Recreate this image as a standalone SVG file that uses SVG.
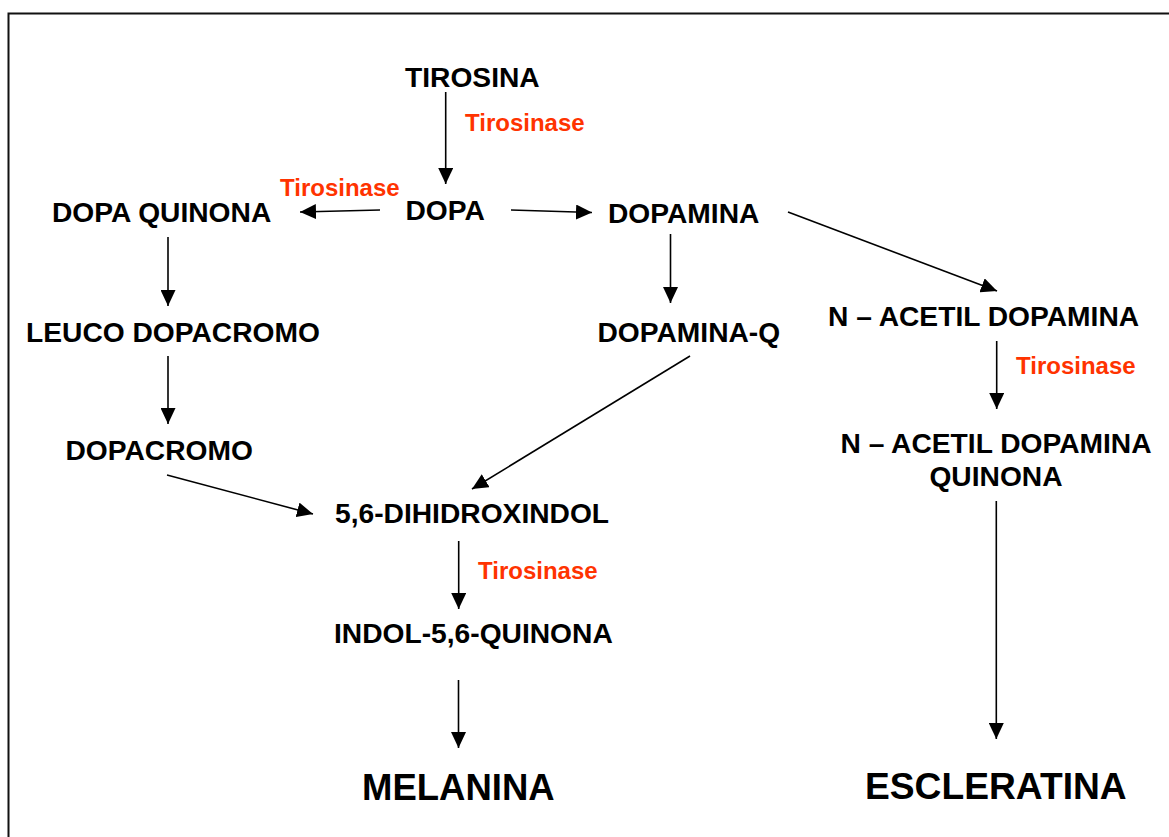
<svg xmlns="http://www.w3.org/2000/svg" width="1169" height="837" viewBox="0 0 1169 837">
<style>
.n{font-family:"Liberation Sans",Arial,sans-serif;font-weight:bold;font-size:28.2px;fill:#000}
.e{font-family:"Liberation Sans",Arial,sans-serif;font-weight:bold;font-size:24px;fill:#ff3300}
.b{font-family:"Liberation Sans",Arial,sans-serif;font-weight:bold;font-size:36.5px;fill:#000}
.c{fill:none;stroke:#000;stroke-width:1.6;marker-end:url(#ah)}
</style>
<defs>
<marker id="ah" markerUnits="userSpaceOnUse" markerWidth="16" markerHeight="15" refX="16" refY="7.5" orient="auto" viewBox="0 0 16 15">
<path d="M0,0 L16,7.5 L0,15 z" fill="#000"/>
</marker>
</defs>
<rect x="0" y="0" width="1169" height="837" fill="#fff"/>
<rect x="8.5" y="13.5" width="1200" height="900" fill="none" stroke="#111" stroke-width="2"/>
<g id="connectors">
<line class="c" x1="445.7" y1="92" x2="445.7" y2="184"/>
<line class="c" x1="380" y1="210" x2="300" y2="212"/>
<line class="c" x1="511" y1="210" x2="592" y2="212.5"/>
<line class="c" x1="788" y1="212" x2="997" y2="291"/>
<line class="c" x1="670.5" y1="234" x2="670.5" y2="303"/>
<line class="c" x1="168" y1="237" x2="168" y2="306"/>
<line class="c" x1="168" y1="356" x2="168" y2="424"/>
<line class="c" x1="167" y1="475" x2="313" y2="514"/>
<line class="c" x1="690" y1="356" x2="472" y2="489"/>
<line class="c" x1="996.7" y1="341" x2="996.7" y2="409"/>
<line class="c" x1="458.7" y1="541" x2="458.7" y2="609"/>
<line class="c" x1="458.5" y1="680" x2="458.5" y2="748"/>
<line class="c" x1="996.3" y1="501" x2="996.3" y2="739"/>
</g>
<g id="tirosina"><text class="n" x="405" y="87">TIROSINA</text></g>
<g id="enz1"><text class="e" x="465" y="131">Tirosinase</text></g>
<g id="enz2"><text class="e" x="280" y="196">Tirosinase</text></g>
<g id="dopa-quinona"><text class="n" x="52" y="222">DOPA QUINONA</text></g>
<g id="dopa"><text class="n" x="405.5" y="220">DOPA</text></g>
<g id="dopamina"><text class="n" x="608" y="222.5">DOPAMINA</text></g>
<g id="n-acetil-dopamina"><text class="n" x="828" y="326">N – ACETIL DOPAMINA</text></g>
<g id="enz3"><text class="e" x="1016" y="374">Tirosinase</text></g>
<g id="n-acetil-dopamina-quinona"><text class="n" x="996" y="452.5" text-anchor="middle">N – ACETIL DOPAMINA</text><text class="n" x="996" y="486" text-anchor="middle">QUINONA</text></g>
<g id="leuco-dopacromo"><text class="n" x="26" y="341.5">LEUCO DOPACROMO</text></g>
<g id="dopacromo"><text class="n" x="65.5" y="460">DOPACROMO</text></g>
<g id="dopamina-q"><text class="n" x="597.5" y="341.5">DOPAMINA-Q</text></g>
<g id="dihidroxindol"><text class="n" x="335" y="523">5,6-DIHIDROXINDOL</text></g>
<g id="enz4"><text class="e" x="478" y="579">Tirosinase</text></g>
<g id="indol-quinona"><text class="n" x="334" y="642.5">INDOL-5,6-QUINONA</text></g>
<g id="melanina"><text class="b" x="362" y="800">MELANINA</text></g>
<g id="escleratina"><text class="b" x="865" y="799" style="font-size:37.2px">ESCLERATINA</text></g>
</svg>
